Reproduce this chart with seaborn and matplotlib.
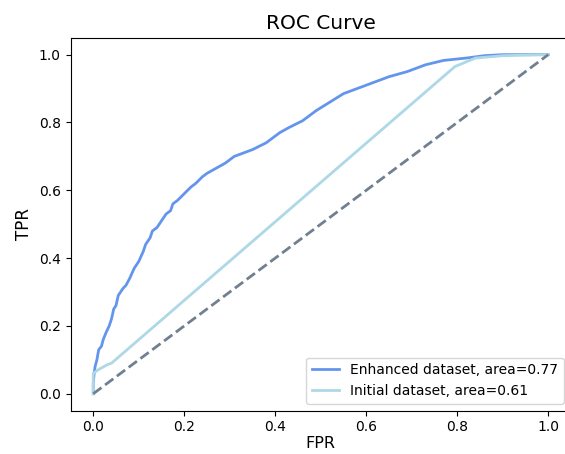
import pandas as pd
import matplotlib
matplotlib.use('Agg')
import matplotlib.pyplot as plt
import seaborn as sns

# ROC points
enh_fpr = [0, 0, 0.002, 0.004, 0.008, 0.012, 0.018, 0.022, 0.028, 0.035, 0.04, 0.045, 0.05,
           0.055, 0.06, 0.065, 0.072, 0.08, 0.09, 0.1, 0.11, 0.115, 0.125, 0.13, 0.14, 0.15,
           0.16, 0.17, 0.175, 0.185, 0.2, 0.215, 0.225, 0.24, 0.25, 0.27, 0.29, 0.31, 0.33,
           0.35, 0.38, 0.41, 0.43, 0.46, 0.49, 0.52, 0.55, 0.58, 0.61, 0.65, 0.69, 0.73,
           0.77, 0.82, 0.86, 0.9, 1.0]
enh_tpr = [0, 0.03, 0.06, 0.08, 0.10, 0.13, 0.14, 0.16, 0.18, 0.20, 0.22, 0.25, 0.26,
           0.29, 0.30, 0.31, 0.32, 0.34, 0.37, 0.39, 0.42, 0.44, 0.46, 0.48, 0.49, 0.51,
           0.53, 0.54, 0.56, 0.57, 0.59, 0.61, 0.62, 0.64, 0.65, 0.665, 0.68, 0.70, 0.71,
           0.72, 0.74, 0.77, 0.785, 0.805, 0.835, 0.86, 0.885, 0.90, 0.915, 0.935, 0.95, 0.97,
           0.983, 0.99, 0.997, 1.0, 1.0]

init_fpr = [0, 0, 0.01, 0.03, 0.04, 0.795, 0.84, 0.9, 1.0]
init_tpr = [0, 0.06, 0.07, 0.085, 0.09, 0.965, 0.99, 0.997, 1.0]

diag = [0, 1]

enh = pd.DataFrame({'FPR': enh_fpr, 'TPR': enh_tpr})
init = pd.DataFrame({'FPR': init_fpr, 'TPR': init_tpr})
ref = pd.DataFrame({'FPR': diag, 'TPR': diag})

fig = plt.figure(figsize=(5.65, 4.54), dpi=100)
ax = fig.add_axes([70.5 / 565, (454 - 410.7) / 454, (571 - 70.5) / 565, (410.7 - 37.7) / 454])

sns.lineplot(data=enh, x='FPR', y='TPR', sort=False, estimator=None, color='cornflowerblue',
             lw=2, label='Enhanced dataset, area=0.77', ax=ax)
sns.lineplot(data=init, x='FPR', y='TPR', sort=False, estimator=None, color='lightblue',
             lw=2, label='Initial dataset, area=0.61', ax=ax)
sns.lineplot(data=ref, x='FPR', y='TPR', sort=False, estimator=None, color='slategray',
             lw=2, linestyle='--', ax=ax)

ax.set_xlim(-0.05, 1.05)
ax.set_ylim(-0.05, 1.05)
ax.set_xticks([0, 0.2, 0.4, 0.6, 0.8, 1.0])
ax.set_yticks([0, 0.2, 0.4, 0.6, 0.8, 1.0])
ax.set_title('ROC Curve', fontsize=14.5)
ax.set_xlabel('FPR', fontsize=11.5, labelpad=1)
ax.set_ylabel('TPR', fontsize=12)
ax.legend(loc='lower right', fontsize=10)

fig.savefig('out.png', dpi=100)
